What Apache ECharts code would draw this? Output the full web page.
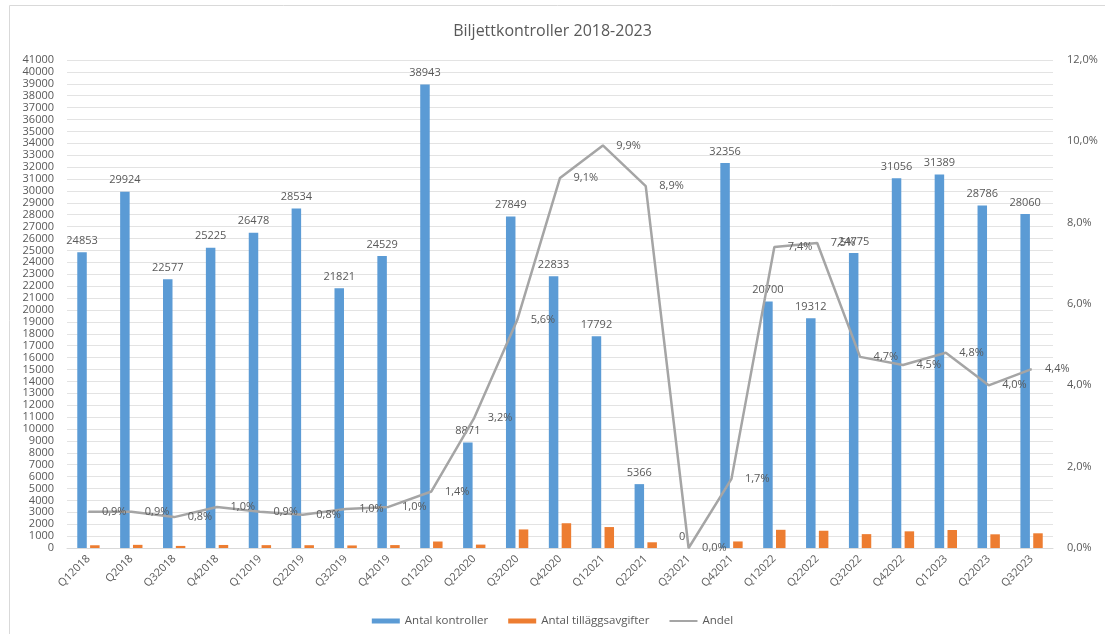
<!DOCTYPE html>
<html>
<head>
<meta charset="utf-8">
<script src="https://cdn.jsdelivr.net/npm/echarts@6/dist/echarts.min.js"></script>
<style>html,body{margin:0;padding:0;background:#fff;}#c{width:1105px;height:634px;}</style>
</head>
<body>
<div id="c"></div>
<script>
const categories = ['Q12018','Q2018','Q32018','Q42018','Q12019','Q22019','Q32019','Q42019','Q12020','Q22020','Q32020','Q42020','Q12021','Q22021','Q32021','Q42021','Q12022','Q22022','Q32022','Q42022','Q12023','Q22023','Q32023'];
const antalKontroller = [24853,29924,22577,25225,26478,28534,21821,24529,38943,8871,27849,22833,17792,5366,0,32356,20700,19312,24775,31056,31389,28786,28060];
const antalTillagg = [230,265,175,255,240,235,215,245,545,285,1560,2080,1760,480,0,550,1530,1450,1165,1400,1510,1150,1235];
const andel = [0.0089,0.0089,0.0076,0.0101,0.0089,0.0082,0.0096,0.0101,0.0139,0.032,0.056,0.091,0.099,0.089,0,0.017,0.074,0.075,0.047,0.045,0.048,0.040,0.044];
const leftTicks = {min:0, max:41000, interval:1000};
const rightTicks = {min:0, max:0.12, interval:0.02};

const txt = '#595959';
const font = 'Open Sans';
const chart = echarts.init(document.getElementById('c'));
const pct = v => (v*100).toFixed(1).replace('.', ',') + '%';
chart.setOption({
  animation:false,
  textStyle:{fontFamily:font},
  graphic:[{type:'rect', shape:{x:9.5,y:5.5,width:1200,height:700}, style:{fill:'none',stroke:'#D9D9D9',lineWidth:1}, silent:true}],
  title:{text:'Biljettkontroller 2018-2023', left:'center', top:18, textStyle:{fontSize:16, fontWeight:'normal', color:txt, fontFamily:font}},
  legend:{bottom:2, left:'center', itemGap:20, itemWidth:28, itemHeight:5,
    textStyle:{color:txt, fontSize:11.5, fontFamily:font},
    data:[{name:'Antal kontroller', icon:'rect'},{name:'Antal tilläggsavgifter', icon:'rect'},{name:'Andel', icon:'path://M0,0H28V2H0Z'}]},
  grid:{left:67, right:52, top:60, bottom:86, containLabel:false},
  xAxis:{type:'category', data:categories,
    axisLine:{lineStyle:{color:'#D9D9D9'}}, axisTick:{show:false},
    axisLabel:{rotate:45, color:txt, fontSize:11, margin:9, interval:0}},
  yAxis:[
    {type:'value', min:leftTicks.min, max:leftTicks.max, interval:leftTicks.interval,
      axisLabel:{color:txt, fontSize:11, margin:13, lineHeight:11, formatter:v=>String(v)},
      axisLine:{show:false}, axisTick:{show:false},
      splitLine:{lineStyle:{color:'#E3E3E3'}}},
    {type:'value', min:rightTicks.min, max:rightTicks.max, interval:rightTicks.interval,
      axisLabel:{color:txt, fontSize:11, margin:14, formatter:pct},
      axisLine:{show:false}, axisTick:{show:false}, splitLine:{show:false}}
  ],
  series:[
    {name:'Antal kontroller', type:'bar', data:antalKontroller, barWidth:9.5, barGap:'35%',
      itemStyle:{color:'#5B9BD5'},
      label:{show:true, position:'top', distance:6, color:txt, fontSize:11}},
    {name:'Antal tilläggsavgifter', type:'bar', data:antalTillagg, barWidth:9.5,
      itemStyle:{color:'#ED7D31'}},
    {name:'Andel', type:'line', yAxisIndex:1, data:andel, smooth:false,
      symbol:'circle', symbolSize:1, showSymbol:true,
      lineStyle:{color:'#A5A5A5', width:2.5}, itemStyle:{color:'#A5A5A5'},
      label:{show:true, position:'right', distance:13, color:txt, fontSize:11, formatter:p=>pct(p.value)}}
  ]
});
</script>
</body>
</html>
